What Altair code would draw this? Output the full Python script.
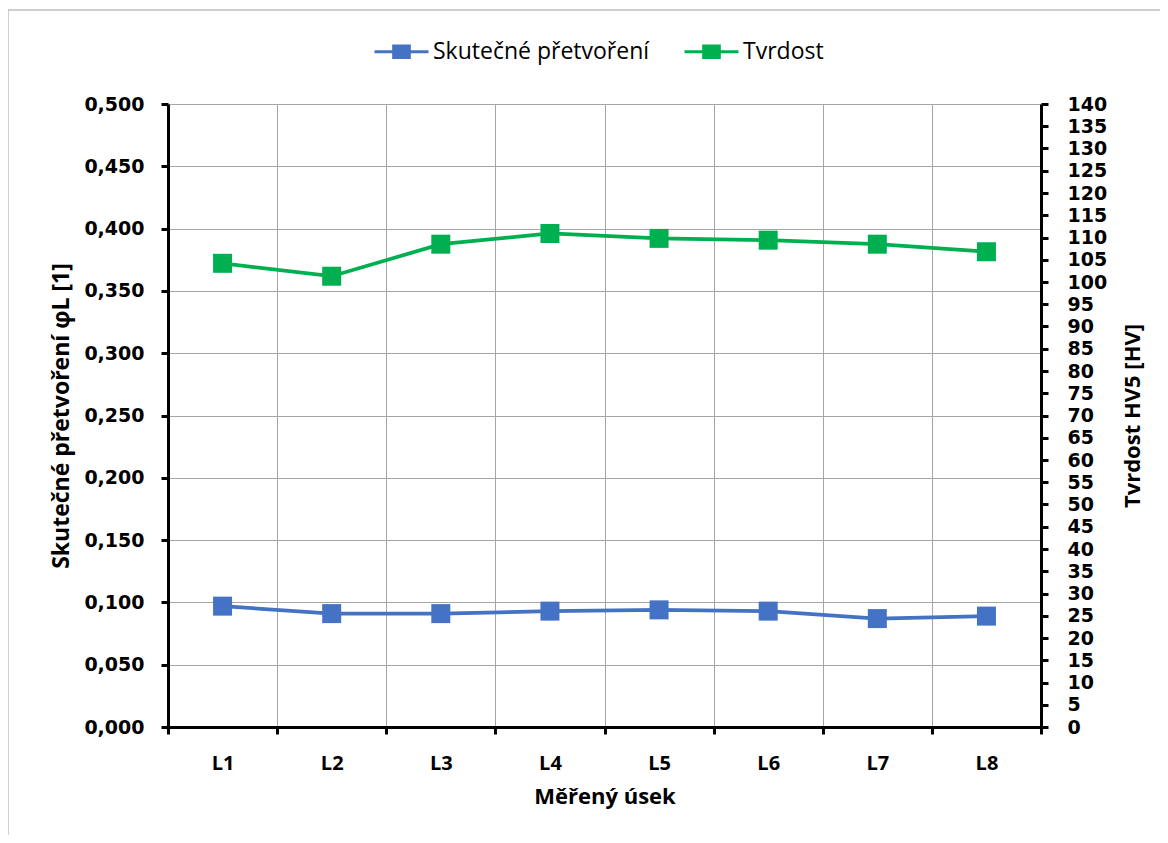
import altair as alt
import pandas as pd

categories = ["L1", "L2", "L3", "L4", "L5", "L6", "L7", "L8"]
strain = [0.097, 0.091, 0.091, 0.093, 0.094, 0.093, 0.087, 0.089]
hardness = [104.2, 101.3, 108.5, 110.9, 109.8, 109.4, 108.5, 106.8]
series_names = ["Skutečné přetvoření", "Tvrdost"]
series_colors = ["#4472C4", "#00B050"]
left_ticks = [0.0, 0.05, 0.1, 0.15, 0.2, 0.25, 0.3, 0.35, 0.4, 0.45, 0.5]
right_ticks = list(range(0, 141, 5))

df_strain = pd.DataFrame({"usek": categories, "strain": strain, "series": series_names[0]})
df_hard = pd.DataFrame({"usek": categories, "hardness": hardness, "series": series_names[1]})

TICK_FONT = "DejaVu Sans"
TITLE_FONT = "Open Sans"

x_enc = alt.X(
    "usek:N",
    sort=categories,
    bandPosition=0.5,
    scale=alt.Scale(type="band", paddingInner=0, paddingOuter=0),
    axis=alt.Axis(
        title="Měřený úsek",
        labelAngle=0,
        tickBand="extent",
        grid=True,
        gridColor="#a6a6a6",
        gridWidth=1,
        domainColor="black",
        domainWidth=3,
        tickColor="black",
        tickWidth=3,
        tickSize=7,
        labelPadding=19,
        labelFont=TITLE_FONT,
        labelFontWeight="bold",
        labelFontSize=20,
        labelColor="black",
        titleFont=TITLE_FONT,
        titleFontWeight="bold",
        titleFontSize=22,
        titleColor="black",
        titlePadding=13,
    ),
)

color_scale = alt.Scale(domain=series_names, range=series_colors)
legend_path = "M-1,0H1M-0.29,-0.217H0.29V0.217H-0.29Z"
legend = alt.Legend(
    title=None,
    orient="none",
    legendX=205,
    legendY=-81,
    direction="horizontal",
    padding=0,
    symbolType=legend_path,
    symbolSize=2916,
    symbolStrokeWidth=3,
    symbolOpacity=1,
    labelFont=TITLE_FONT,
    labelFontSize=23,
    labelColor="black",
    labelLimit=500,
    labelOffset=3,
    columnPadding=28,
)
color_enc = alt.Color("series:N", scale=color_scale, legend=legend)

left_axis = alt.Axis(
    title="Skutečné přetvoření φL [1]",
    values=left_ticks,
    labelExpr="replace(format(datum.value, '.3f'), '.', ',')",
    grid=True,
    gridColor="#a6a6a6",
    gridWidth=1,
    domainColor="black",
    domainWidth=3,
    tickColor="black",
    tickWidth=3,
    tickSize=7,
    labelPadding=17,
    labelFont=TICK_FONT,
    labelFontWeight="bold",
    labelFontSize=19,
    labelColor="black",
    labelOverlap=False,
    titleFont=TITLE_FONT,
    titleFontWeight="bold",
    titleFontSize=23,
    titleColor="black",
    titlePadding=10,
)

right_axis = alt.Axis(
    title="Tvrdost HV5 [HV]",
    orient="right",
    values=right_ticks,
    grid=False,
    domainColor="black",
    domainWidth=3,
    tickColor="black",
    tickWidth=3,
    tickSize=7,
    labelPadding=19,
    labelFont=TICK_FONT,
    labelFontWeight="bold",
    labelFontSize=19,
    labelColor="black",
    labelOverlap=False,
    titleFont=TITLE_FONT,
    titleFontWeight="bold",
    titleFontSize=22,
    titleColor="black",
    titleAngle=270,
    titlePadding=38,
)

y_left = alt.Y("strain:Q", scale=alt.Scale(domain=[0, 0.5], nice=False), axis=left_axis)
y_right = alt.Y("hardness:Q", scale=alt.Scale(domain=[0, 140], nice=False), axis=right_axis)

strain_base = alt.Chart(df_strain)
hard_base = alt.Chart(df_hard)

strain_line = strain_base.mark_line(strokeWidth=3.75).encode(x=x_enc, y=y_left, color=color_enc)
strain_pts = strain_base.mark_point(shape="square", size=361, filled=True, opacity=1).encode(
    x=x_enc, y=y_left, color=color_enc
)
hard_line = hard_base.mark_line(strokeWidth=3.75).encode(x=x_enc, y=y_right, color=color_enc)
hard_pts = hard_base.mark_point(shape="square", size=361, filled=True, opacity=1).encode(
    x=x_enc, y=y_right, color=color_enc
)

frame = alt.Chart(pd.DataFrame({"f": [0]})).mark_rect(
    fill=None, stroke="#a0a0a0", strokeWidth=1
).encode(
    x=alt.value(-160), x2=alt.value(1200), y=alt.value(-94), y2=alt.value(900)
)

left_layer = alt.layer(strain_line, strain_pts)
right_layer = alt.layer(hard_line, hard_pts)

chart = (
    alt.layer(frame, left_layer, right_layer)
    .resolve_scale(y="independent")
    .properties(
        width=873,
        height=623,
        padding={"left": 160, "top": 96, "right": 119, "bottom": 108},
        autosize=alt.AutoSizeParams(type="none"),
        background="white",
    )
    .configure_view(stroke=None)
)

chart.save("out.html", embed_options={"renderer": "svg", "actions": False})
